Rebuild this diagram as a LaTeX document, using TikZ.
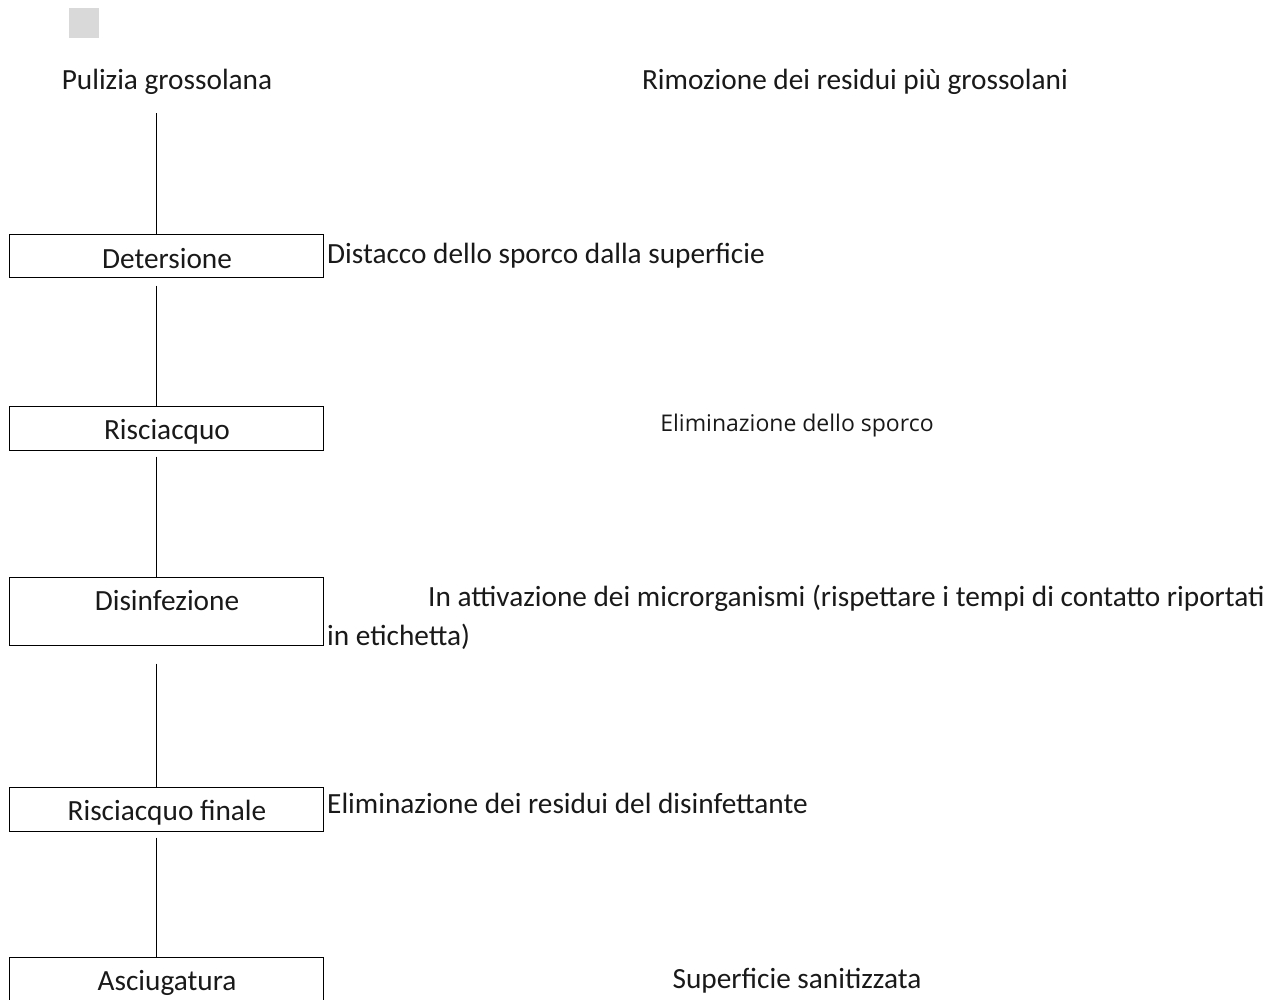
\documentclass[tikz,border=0pt]{standalone}
\usepackage{fontspec}
\setmainfont{Carlito}
\newfontfamily\smallfam{Open Sans}
\usetikzlibrary{calc}
\begin{document}
\begin{tikzpicture}[x=1pt,y=-1pt,
  txt/.style={inner sep=0pt,font=\fontsize{29.3}{35}\selectfont,text=black!90},
  stepbox/.style={draw=black,line width=1pt,inner sep=0pt,minimum width=314pt},
  conn/.style={draw=black,line width=1pt}]
\useasboundingbox (0,0) rectangle (1279,1000);
\fill[black!15] (69,8) rectangle (99,38);
% steps
\node[txt,anchor=base] (pul) at (167,90) {Pulizia grossolana};
\node[stepbox,minimum height=43pt] (det) at (166,256.5) {};
\node[txt,anchor=base] (dett) at (167,269) {Detersione};
\node[stepbox,minimum height=44pt] (ris) at (166,428) {};
\node[txt,anchor=base] (rist) at (167,439) {Risciacquo};
\node[stepbox,minimum height=68pt] (dis) at (166,611) {};
\node[txt,anchor=base] (dist) at (167,610) {Disinfezione};
\node[stepbox,minimum height=44pt] (rif) at (166,809) {};
\node[txt,anchor=base] (rift) at (167,820) {Risciacquo finale};
\node[stepbox,minimum height=50pt] (asc) at (166,982) {};
\node[txt,anchor=base] (asct) at (167,990) {Asciugatura};
% descriptions
\node[txt,anchor=base] (d1) at (855,90) {Rimozione dei residui più grossolani};
\node[txt,anchor=base west] (d2) at (327,264) {Distacco dello sporco dalla superficie};
\node[inner sep=0pt,font=\smallfam\fontsize{23}{27}\selectfont,text=black!90,anchor=base] (d3) at (797,431) {Eliminazione dello sporco};
\node[txt,anchor=base west] (d4a) at (428,606) {In attivazione dei microrganismi (rispettare i tempi di contatto riportati};
\node[txt,anchor=base west] (d4b) at (327,645) {in etichetta)};
\node[txt,anchor=base west] (d5) at (327,813) {Eliminazione dei residui del disinfettante};
\node[txt,anchor=base] (d6) at (797,988) {Superficie sanitizzata};
% connectors
\draw[conn] ($(pul.south)+(-11,18)$) -- ([xshift=-10pt]det.north);
\draw[conn] ([shift={(-10,7)}]det.south) -- ([xshift=-10pt]ris.north);
\draw[conn] ([shift={(-10,6)}]ris.south) -- ([xshift=-10pt]dis.north);
\draw[conn] ([shift={(-10,18)}]dis.south) -- ([xshift=-10pt]rif.north);
\draw[conn] ([shift={(-10,6)}]rif.south) -- ([xshift=-10pt]asc.north);
\end{tikzpicture}
\end{document}
